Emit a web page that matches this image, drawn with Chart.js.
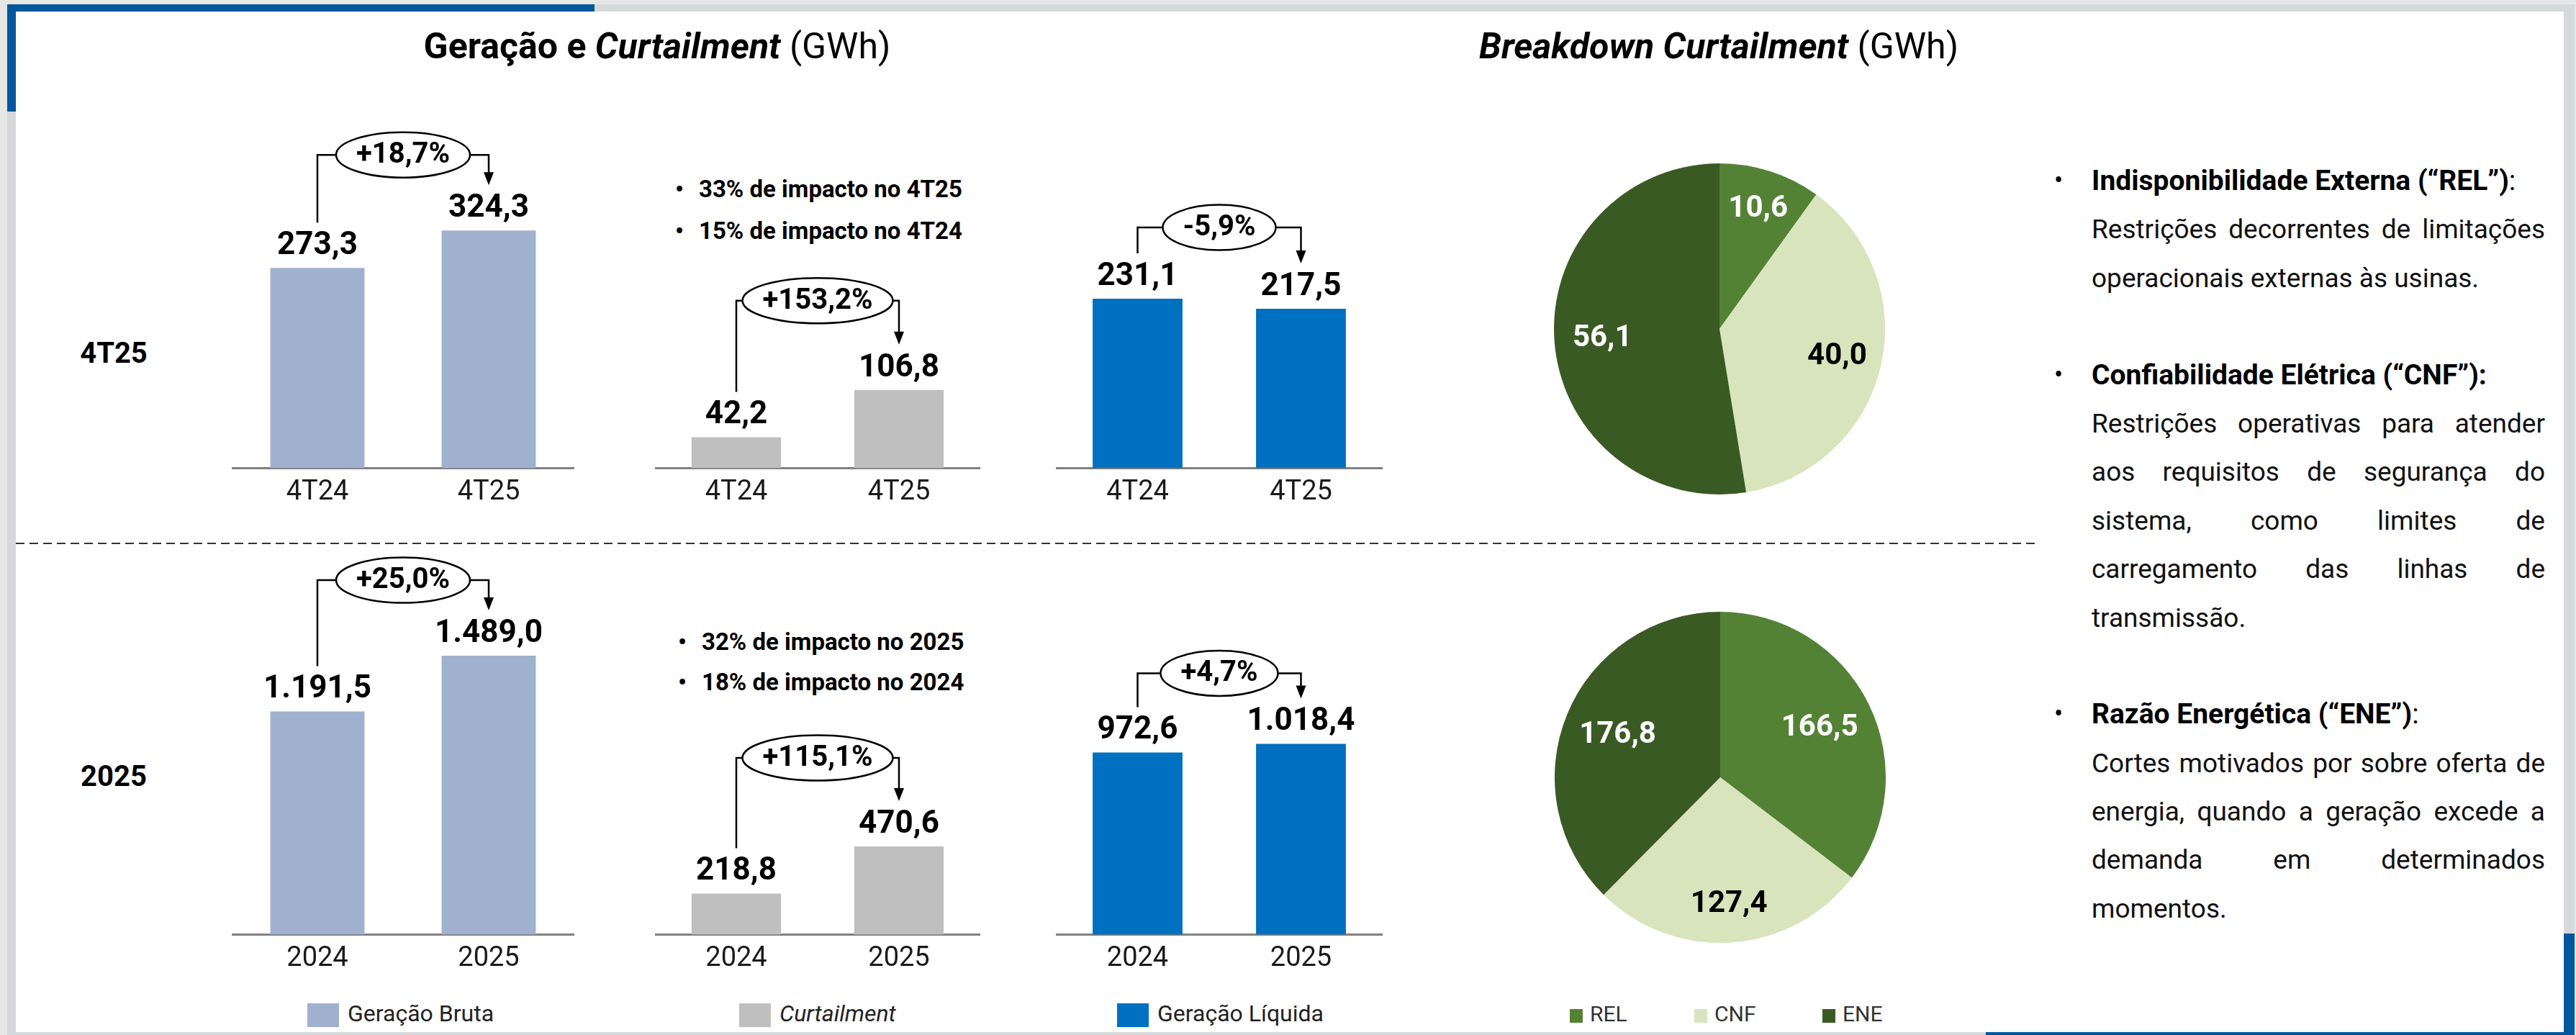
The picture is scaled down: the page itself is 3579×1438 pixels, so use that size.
<!DOCTYPE html>
<html>
<head>
<meta charset="utf-8">
<script src="https://cdn.jsdelivr.net/npm/chart.js@4.4.1/dist/chart.umd.min.js"></script>
<style>
html, body { margin: 0; padding: 0; }
body { width: 3579px; height: 1438px; position: relative; overflow: hidden; background: #e6e6e6; font-family: Roboto, sans-serif; color: #000; }
.abs { position: absolute; }
.title { font-size: 50px; line-height: 50px; white-space: nowrap; transform: translateX(-50%); }
.rowlabel { font-size: 40px; font-weight: bold; line-height: 40px; transform: translate(-50%, -50%); }
.impact { font-size: 33px; font-weight: bold; line-height: 36px; white-space: nowrap; }
.impact span { position: absolute; left: -33px; }
.legend { font-size: 32px; line-height: 34px; white-space: nowrap; color: #222; }
.legend i.sw { display: inline-block; width: 44px; height: 33px; vertical-align: middle; margin-right: 12px; }
.plegend { font-size: 30px; line-height: 30px; white-space: nowrap; color: #333; }
.plegend i.sw { display: inline-block; width: 18px; height: 19px; vertical-align: -2px; margin-right: 10px; }
#notes { left: 2906px; top: 218px; width: 630px; font-size: 37px; line-height: 67.4px; color: #111; }
#notes div { height: 67.4px; white-space: nowrap; }
#notes .h { font-weight: bold; font-size: 39px; color: #000; position: relative; }
#notes .h span { position: absolute; left: -52px; font-weight: normal; font-size: 36px; }
#notes .j { text-align: justify; text-align-last: justify; }
canvas { position: absolute; }
</style>
</head>
<body>
<div class="abs" style="left:10px;top:6px;width:3567px;height:1432px;background:#d5d9da;"></div>
<div class="abs" style="left:22px;top:16px;width:3540px;height:1418px;background:#fff;"></div>
<div class="abs" style="left:10px;top:6px;width:816px;height:10px;background:#00579c;"></div>
<div class="abs" style="left:10px;top:6px;width:12px;height:149px;background:#00579c;"></div>
<div class="abs" style="left:3562px;top:1297px;width:15px;height:141px;background:#00579c;"></div>
<div class="abs" style="left:2759px;top:1434px;width:818px;height:4px;background:#00579c;"></div>
<div class="abs" style="left:22px;top:754px;width:2810px;height:2px;background:repeating-linear-gradient(90deg,#333 0 12px,transparent 12px 19px);"></div>

<div class="abs title" style="left:913px;top:39px;"><b>Geração e <i>Curtailment</i></b> (GWh)</div>
<div class="abs title" style="left:2388px;top:39px;"><b><i>Breakdown Curtailment</i></b> (GWh)</div>

<div class="abs rowlabel" style="left:158px;top:491px;">4T25</div>
<div class="abs rowlabel" style="left:158px;top:1079px;">2025</div>

<div class="abs impact" style="left:971px;top:245px;"><span>•</span>33% de impacto no 4T25</div>
<div class="abs impact" style="left:971px;top:303px;"><span>•</span>15% de impacto no 4T24</div>
<div class="abs impact" style="left:975px;top:874px;"><span>•</span>32% de impacto no 2025</div>
<div class="abs impact" style="left:975px;top:930px;"><span>•</span>18% de impacto no 2024</div>

<canvas id="grossQ" width="476" height="550" style="left:322px;top:170px;"></canvas>
<canvas id="curtQ" width="452" height="550" style="left:910px;top:170px;"></canvas>
<canvas id="netQ" width="454" height="550" style="left:1467px;top:170px;"></canvas>
<canvas id="grossY" width="476" height="603" style="left:322px;top:765px;"></canvas>
<canvas id="curtY" width="452" height="603" style="left:910px;top:765px;"></canvas>
<canvas id="netY" width="454" height="603" style="left:1467px;top:765px;"></canvas>
<canvas id="pieQ" width="460" height="460" style="left:2159px;top:227px;"></canvas>
<canvas id="pieY" width="460" height="460" style="left:2160px;top:850px;"></canvas>

<div class="abs legend" style="left:427px;top:1391px;"><i class="sw" style="background:#9fb1cf;"></i>Geração Bruta</div>
<div class="abs legend" style="left:1027px;top:1391px;"><i class="sw" style="background:#bfbfbf;"></i><i>Curtailment</i></div>
<div class="abs legend" style="left:1552px;top:1391px;"><i class="sw" style="background:#0070c0;"></i>Geração Líquida</div>

<div class="abs plegend" style="left:2181px;top:1394px;"><i class="sw" style="background:#548235;"></i>REL</div>
<div class="abs plegend" style="left:2354px;top:1394px;"><i class="sw" style="background:#d8e4bc;"></i>CNF</div>
<div class="abs plegend" style="left:2532px;top:1394px;"><i class="sw" style="background:#3a5a24;"></i>ENE</div>

<div id="notes" class="abs">
  <div class="h"><span>•</span>Indisponibilidade Externa (“REL”)<span style="position:static;font-size:39px;">:</span></div>
  <div class="j">Restrições decorrentes de limitações</div>
  <div>operacionais externas às usinas.</div>
  <div></div>
  <div class="h"><span>•</span>Confiabilidade Elétrica (“CNF”):</div>
  <div class="j">Restrições operativas para atender</div>
  <div class="j">aos requisitos de segurança do</div>
  <div class="j">sistema, como limites de</div>
  <div class="j">carregamento das linhas de</div>
  <div>transmissão.</div>
  <div></div>
  <div class="h"><span>•</span>Razão Energética (“ENE”)<span style="position:static;font-size:39px;">:</span></div>
  <div class="j">Cortes motivados por sobre oferta de</div>
  <div class="j">energia, quando a geração excede a</div>
  <div class="j">demanda em determinados</div>
  <div>momentos.</div>
</div>

<script>
// =====================
// Data
// =====================
const quarterLabels = ['4T24', '4T25'];
const yearLabels = ['2024', '2025'];

const grossQuarter = [273.3, 324.3];
const curtailQuarter = [42.2, 106.8];
const netQuarter = [231.1, 217.5];

const grossYear = [1191.5, 1489.0];
const curtailYear = [218.8, 470.6];
const netYear = [972.6, 1018.4];

const changeQuarter = ['+18,7%', '+153,2%', '-5,9%'];
const changeYear = ['+25,0%', '+115,1%', '+4,7%'];

const breakdownLabels = ['REL', 'CNF', 'ENE'];
const breakdownQuarter = [10.6, 40.0, 56.1];
const breakdownYear = [166.5, 127.4, 176.8];

const FONT = 'Roboto, sans-serif';

// pt-BR number format: 1.191,5
function fmt(v) {
    const parts = v.toFixed(1).split('.');
    const int = parts[0].replace(/\B(?=(\d{3})+(?!\d))/g, '.');
    return int + ',' + parts[1];
}

// =====================
// Value labels + change bracket on bar charts
// =====================
const barNotes = {
    id: 'barNotes',
    afterDatasetsDraw(chart, args, opts) {
        const ctx = chart.ctx;
        const bars = chart.getDatasetMeta(0).data;
        const vals = chart.data.datasets[0].data;
        const labelY = bars.map(b => b.y - 30);

        ctx.save();
        ctx.fillStyle = '#000';
        ctx.textAlign = 'center';
        ctx.textBaseline = 'middle';
        ctx.font = 'bold 44px ' + FONT;
        bars.forEach((b, i) => ctx.fillText(fmt(vals[i]), b.x, labelY[i]));

        const x1 = bars[0].x, x2 = bars[1].x;
        const cx = (x1 + x2) / 2;
        const cy = Math.min(...labelY) - opts.gap;
        ctx.font = 'bold 40px ' + FONT;
        const tw = ctx.measureText(opts.change).width;
        const rx = Math.min(tw / 2 + 28, (x2 - x1) / 2);
        const ry = 31.5;
        const tipY = labelY[1] - 33;

        ctx.strokeStyle = '#000';
        ctx.lineWidth = 2.5;
        ctx.beginPath();
        ctx.moveTo(x1, labelY[0] - 33);
        ctx.lineTo(x1, cy);
        ctx.lineTo(cx - rx, cy);
        ctx.moveTo(cx + rx, cy);
        ctx.lineTo(x2, cy);
        ctx.lineTo(x2, tipY - 16);
        ctx.stroke();

        ctx.beginPath();
        ctx.moveTo(x2 - 7, tipY - 18);
        ctx.lineTo(x2 + 7, tipY - 18);
        ctx.lineTo(x2, tipY);
        ctx.closePath();
        ctx.fill();

        ctx.beginPath();
        ctx.ellipse(cx, cy, rx, ry, 0, 0, Math.PI * 2);
        ctx.fillStyle = '#fff';
        ctx.fill();
        ctx.stroke();
        ctx.fillStyle = '#000';
        ctx.fillText(opts.change, cx, cy + 1);
        ctx.restore();
    }
};

function makeBarChart(id, labels, values, color, yMax, change, gap) {
    return new Chart(document.getElementById(id), {
        type: 'bar',
        data: {
            labels: labels,
            datasets: [{
                data: values,
                backgroundColor: color,
                barPercentage: 0.55,
                categoryPercentage: 1
            }]
        },
        options: {
            responsive: false,
            animation: false,
            devicePixelRatio: 1,
            layout: { padding: { top: 10, bottom: 2, left: 0, right: 0 } },
            plugins: {
                legend: { display: false },
                tooltip: { enabled: false },
                barNotes: { change: change, gap: gap }
            },
            scales: {
                x: {
                    grid: { display: false, drawTicks: false },
                    border: { display: true, color: '#808080', width: 3 },
                    ticks: { color: '#1a1a1a', padding: 11, font: { size: 38, family: FONT } }
                },
                y: { display: false, min: 0, max: yMax }
            }
        },
        plugins: [barNotes]
    });
}

// =====================
// Pie labels
// =====================
const pieLabels = {
    id: 'pieLabels',
    afterDatasetsDraw(chart, args, opts) {
        const ctx = chart.ctx;
        const arcs = chart.getDatasetMeta(0).data;
        const vals = chart.data.datasets[0].data;
        ctx.save();
        ctx.font = 'bold 42px ' + FONT;
        ctx.textAlign = 'center';
        ctx.textBaseline = 'middle';
        arcs.forEach((a, i) => {
            const mid = (a.startAngle + a.endAngle) / 2;
            const r = a.outerRadius * opts.radius[i];
            ctx.fillStyle = opts.colors[i];
            ctx.fillText(fmt(vals[i]), a.x + Math.cos(mid) * r, a.y + Math.sin(mid) * r);
        });
        ctx.restore();
    }
};

function makePie(id, values, radius) {
    return new Chart(document.getElementById(id), {
        type: 'pie',
        data: {
            labels: breakdownLabels,
            datasets: [{
                data: values,
                backgroundColor: ['#548235', '#d8e4bc', '#3a5a24'],
                borderWidth: 0
            }]
        },
        options: {
            responsive: false,
            animation: false,
            devicePixelRatio: 1,
            layout: { padding: 0 },
            plugins: {
                legend: { display: false },
                tooltip: { enabled: false },
                pieLabels: { radius: radius, colors: ['#fff', '#000', '#fff'] }
            }
        },
        plugins: [pieLabels]
    });
}

makeBarChart('grossQ', quarterLabels, grossQuarter, '#9fb1cf', 462, changeQuarter[0], 75);
makeBarChart('curtQ', quarterLabels, curtailQuarter, '#bfbfbf', 462, changeQuarter[1], 94);
makeBarChart('netQ', quarterLabels, netQuarter, '#0070c0', 462, changeQuarter[2], 69);
makeBarChart('grossY', yearLabels, grossYear, '#9fb1cf', 2012, changeYear[0], 75);
makeBarChart('curtY', yearLabels, curtailYear, '#bfbfbf', 2012, changeYear[1], 93);
makeBarChart('netY', yearLabels, netYear, '#0070c0', 2012, changeYear[2], 68);

makePie('pieQ', breakdownQuarter, [0.76, 0.73, 0.71]);
makePie('pieY', breakdownYear, [0.67, 0.77, 0.67]);
</script>
</body>
</html>
